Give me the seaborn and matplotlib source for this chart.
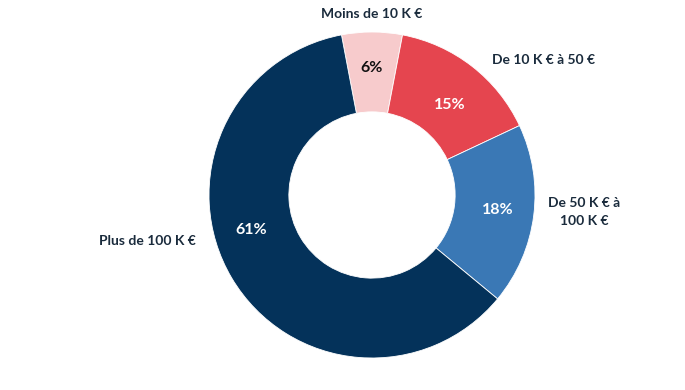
import matplotlib
matplotlib.use("Agg")
import matplotlib.pyplot as plt
import seaborn as sns
import numpy as np

categories = ["Moins de 10 K €", "De 10 K € à 50 €", "De 50 K € à\n100 K €", "Plus de 100 K €"]
values = [6, 15, 18, 61]
pct_labels = ["6%", "15%", "18%", "61%"]
colors = ["#F7CBCC", "#E5454F", "#3A78B5", "#04325A"]
pct_colors = ["#111111", "#FFFFFF", "#FFFFFF", "#FFFFFF"]

# layout (label angle in degrees, radius, alignment)
label_pos = [(90, 1.11, "center"), (48.4, 1.108, "left"), (-5.5, 1.085, "left"), (-165.5, 1.12, "right")]
pct_pos = [(90, 0.78), (49, 0.73), (-7, 0.78), (-163.7, 0.77)]

sns.set_theme(style="white")
plt.rcParams['font.family'] = ['Lato', 'DejaVu Sans']

fig = plt.figure(figsize=(6.85, 3.9), dpi=100)
ax = fig.add_axes([0, 0, 1, 1])
R_px = 163.0
cx, cy = 372.0, 195.0

start = 90 + values[0] * 360 / 100 / 2
wedges, _ = ax.pie(values, colors=colors, startangle=start, counterclock=False,
                   radius=1.0, wedgeprops=dict(width=0.49, edgecolor="white", linewidth=0.6),
                   frame=True)
ax.set_aspect("auto")
ax.set_xlim(-cx / R_px, (685 - cx) / R_px)
ax.set_ylim(-(390 - cy) / R_px, cy / R_px)
ax.axis("off")

for lab, (ang, r, ha) in zip(categories, label_pos):
    a = np.deg2rad(ang)
    ax.text(r * np.cos(a), r * np.sin(a), lab, ha=ha, va="center", fontsize=10,
            fontweight="bold", color="#1A2B3C", linespacing=1.6, multialignment="center")

for p, (ang, r), c in zip(pct_labels, pct_pos, pct_colors):
    a = np.deg2rad(ang)
    ax.text(r * np.cos(a), r * np.sin(a), p, ha="center", va="center", fontsize=11.5,
            fontweight="bold", color=c)

fig.savefig("out.png", dpi=100, facecolor="white")
